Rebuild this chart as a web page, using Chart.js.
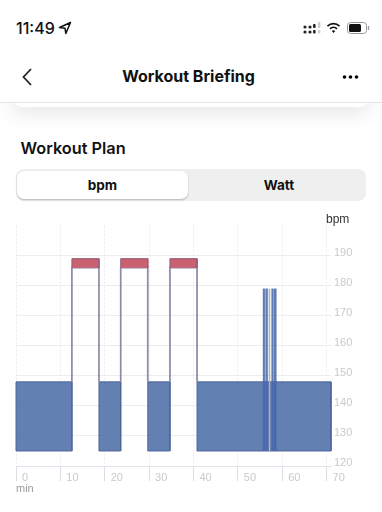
<!DOCTYPE html>
<html>
<head>
<meta charset="utf-8">
<title>Workout Briefing</title>
<script src="https://cdn.jsdelivr.net/npm/chart.js@4"></script>
<style>
  html, body { margin: 0; padding: 0; background: #fff; }
  body { width: 382px; height: 512px; position: relative; overflow: hidden; font-family: Inter, "Liberation Sans", sans-serif; color: #111; }
  .abs { position: absolute; white-space: nowrap; line-height: 1; }
  #card { position: absolute; left: 12px; top: 60px; width: 358px; height: 47px; border-radius: 10px; background: #fff; box-shadow: 0 8px 20px rgba(0,0,0,0.09); }
  #nav { position: absolute; left: 0; top: 0; width: 382px; height: 102px; background: #fff; border-bottom: 1px solid #e4e4e4; }
  #seg { position: absolute; left: 16px; top: 169px; width: 350px; height: 32px; border-radius: 8px; background: #efefef; }
  #segOn { position: absolute; left: 1px; top: 2px; width: 171px; height: 28px; border-radius: 7px; background: #fff; box-shadow: 0 1px 2px rgba(0,0,0,0.25); }
  canvas { position: absolute; left: 0; top: 216px; }
</style>
</head>
<body>
<div id="card"></div>
<div id="nav"></div>

<div class="abs" style="left:16px;top:20px;font-size:16px;font-weight:500">11:49</div>
<svg class="abs" style="left:58px;top:21px" width="14" height="14" viewBox="0 0 14 14"><path d="M12.5 1.5 L1.5 6.5 L7 7.2 L7.8 12.5 Z" fill="none" stroke="#111" stroke-width="1.5" stroke-linejoin="round"/></svg>
<svg class="abs" style="left:303px;top:22px" width="18" height="12" viewBox="0 0 18 12">
  <g fill="#222"><circle cx="2" cy="5" r="1.6"/><circle cx="2" cy="10" r="1.6"/><circle cx="7" cy="5" r="1.6"/><circle cx="7" cy="10" r="1.6"/><rect x="10" y="2" width="2.6" height="4" rx="1"/><rect x="10" y="8" width="2.6" height="3.5" rx="1"/></g>
  <g fill="#ccc"><rect x="15" y="0" width="2.4" height="6" rx="1"/><rect x="15" y="8" width="2.4" height="3.5" rx="1"/></g>
</svg>
<svg class="abs" style="left:326px;top:22px" width="15" height="12" viewBox="0 0 15 12"><g fill="none" stroke="#111" stroke-width="1.7"><path d="M1.5 4.2 A8.5 8.5 0 0 1 13.5 4.2"/><path d="M4 6.8 A5 5 0 0 1 11 6.8"/></g><path d="M5.8 9 A2.4 2.4 0 0 1 9.2 9 L7.5 11 Z" fill="#111"/></svg>
<svg class="abs" style="left:347px;top:22px" width="23" height="12" viewBox="0 0 23 12"><rect x="0.5" y="0.5" width="19" height="11" rx="3" fill="none" stroke="#999"/><rect x="2" y="2" width="12" height="8" rx="1.5" fill="#111"/><rect x="20.8" y="4" width="1.4" height="4" rx="0.7" fill="#999"/></svg>

<svg class="abs" style="left:21px;top:67px" width="12" height="20" viewBox="0 0 12 20"><path d="M10 2 L2.5 10 L10 18" fill="none" stroke="#222" stroke-width="1.8"/></svg>
<div class="abs" style="left:0;width:377px;text-align:center;top:68px;font-size:16px;font-weight:700">Workout Briefing</div>
<svg class="abs" style="left:342px;top:74px" width="17" height="6" viewBox="0 0 17 6"><circle cx="2.5" cy="3" r="1.8"/><circle cx="8.5" cy="3" r="1.8"/><circle cx="14.5" cy="3" r="1.8"/></svg>

<div class="abs" style="left:20.5px;top:140px;font-size:16.3px;font-weight:600">Workout Plan</div>

<div id="seg"><div id="segOn"></div></div>
<div class="abs" style="left:17px;width:171px;text-align:center;top:179px;font-size:13.5px;font-weight:700">bpm</div>
<div class="abs" style="left:193px;width:172px;text-align:center;top:179px;font-size:13.5px;font-weight:700">Watt</div>

<canvas id="plan" width="382" height="280"></canvas>

<div class="abs" style="left:326px;top:213px;font-size:12px;font-family:'Liberation Sans';color:#333">bpm</div>
<div class="abs" style="left:16px;top:483px;font-size:11px;font-family:'Liberation Sans';color:#999">min</div>

<script>
const xTicks = [0, 10, 20, 30, 40, 50, 60, 70];
const yTicks = [120, 130, 140, 150, 160, 170, 180, 190];

// plan blocks: minutes and bpm
const steadyStart = [0, 18.7, 29.7, 40.8];
const steadyEnd = [12.6, 23.6, 34.7, 71];
const steadyLow = 125;
const steadyHigh = 148;

const effortStart = [12.6, 23.6, 34.7];
const effortEnd = [18.7, 29.7, 40.8];
const effortLow = 186;
const effortHigh = 189;

const spikeStart = [55.65, 56.25, 57.55, 58.15];
const spikeEnd = [56.1, 56.75, 58, 58.65];
const spikeHigh = 179;

const tanStart = [57];
const tanEnd = [57.35];

function block(start, end, low, high) {
  return [
    { x: start, y: low },
    { x: start, y: high },
    { x: end, y: high },
    { x: end, y: low },
  ];
}

const datasets = [];

effortStart.forEach((s, i) => {
  // red cap
  datasets.push({
    data: block(s, effortEnd[i], effortLow, effortHigh),
    borderColor: "#96597a",
    backgroundColor: "#c9616f",
    borderWidth: 1,
    fill: { value: effortLow },
  });
  // open frame from the steady level up to the cap
  datasets.push({
    data: block(s, effortEnd[i], steadyHigh, effortLow),
    borderColor: "#8c88a8",
    borderWidth: 1.7,
    fill: false,
  });
});

spikeStart.forEach((s, i) => {
  datasets.push({
    data: block(s, spikeEnd[i], steadyLow, spikeHigh),
    borderColor: "rgba(70,105,170,0.5)",
    backgroundColor: "rgba(70,105,170,0.85)",
    borderWidth: 0.5,
    fill: { value: steadyLow },
  });
});

tanStart.forEach((s, i) => {
  datasets.push({
    data: block(s, tanEnd[i], steadyLow, spikeHigh),
    borderColor: "rgba(0,0,0,0)",
    backgroundColor: "#d6b083",
    borderWidth: 0,
    fill: { value: steadyLow },
  });
});

steadyStart.forEach((s, i) => {
  // bottom edge, the filled block below is open there
  datasets.push({
    data: [{ x: s, y: steadyLow }, { x: steadyEnd[i], y: steadyLow }],
    borderColor: "#4f6699",
    borderWidth: 1,
    fill: false,
  });
  datasets.push({
    data: block(s, steadyEnd[i], steadyLow, steadyHigh),
    borderColor: "#4f6699",
    backgroundColor: "rgba(77,110,168,0.88)",
    borderWidth: 1,
    fill: { value: steadyLow },
  });
});

new Chart(document.getElementById("plan").getContext("2d"), {
  type: "line",
  data: {
    datasets: datasets.map((d) => ({
      ...d,
      pointRadius: 0,
      tension: 0,
      clip: false,
    })),
  },
  options: {
    responsive: false,
    animation: false,
    layout: { padding: { left: 16, top: 0, right: 0, bottom: 0 } },
    plugins: { legend: { display: false }, tooltip: { enabled: false } },
    scales: {
      x: {
        type: "linear",
        min: 0,
        max: 71,
        afterBuildTicks: (scale) => {
          scale.ticks = xTicks.map((value) => ({ value }));
        },
        afterFit: (scale) => {
          scale.height = 30;
        },
        border: { display: true, color: "#e2e2ea", width: 1, dash: [2, 2] },
        grid: {
          color: "#ebebf0",
          tickColor: "#dcdce2",
          tickLength: 15,
          tickBorderDash: [],
        },
        ticks: {
          color: "#c9c9cf",
          font: { family: "Liberation Sans", size: 11 },
          align: "start",
          labelOffset: 6,
          padding: -10,
          maxRotation: 0,
          autoSkip: false,
        },
      },
      y: {
        position: "right",
        min: 120,
        max: 200,
        afterBuildTicks: (scale) => {
          scale.ticks = yTicks.map((value) => ({ value }));
        },
        afterFit: (scale) => {
          scale.width = 51;
        },
        border: { display: false },
        grid: { color: "#ebebf0", drawTicks: false },
        ticks: {
          color: "#c9c9cf",
          font: { family: "Liberation Sans", size: 11 },
          padding: 3,
          labelOffset: -3,
        },
      },
    },
  },
});
</script>
</body>
</html>
